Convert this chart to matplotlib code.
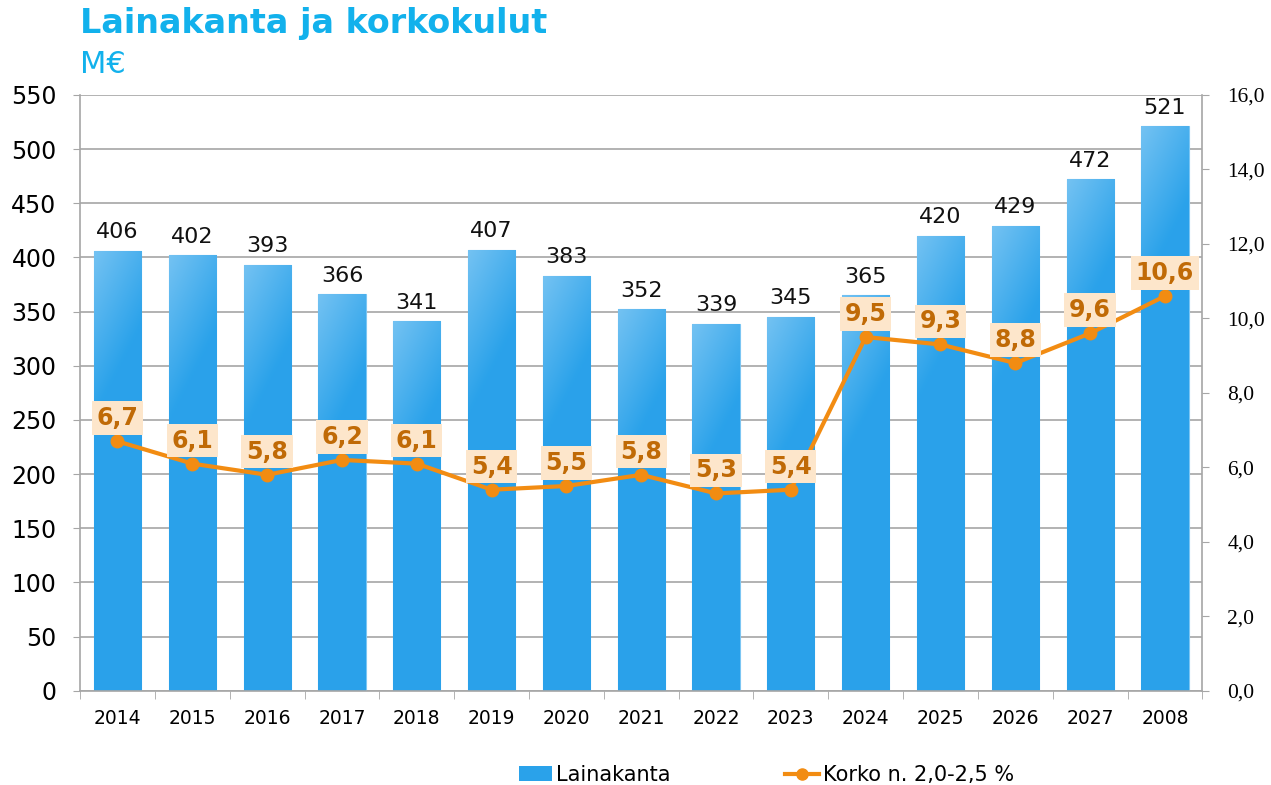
import matplotlib.pyplot as plt
import numpy as np
from matplotlib.lines import Line2D
from matplotlib.patches import Patch

years = ['2014', '2015', '2016', '2017', '2018', '2019', '2020', '2021',
         '2022', '2023', '2024', '2025', '2026', '2027', '2008']
lainakanta = [406, 402, 393, 366, 341, 407, 383, 352, 339, 345, 365, 420, 429, 472, 521]
korko = [6.7, 6.1, 5.8, 6.2, 6.1, 5.4, 5.5, 5.8, 5.3, 5.4, 9.5, 9.3, 8.8, 9.6, 10.6]

bar_col = '#2aa2ea'
line_col = '#f28c12'
lab_col = '#c06a06'
grid_col = '#a6a6a6'

fig = plt.figure(figsize=(12.71, 7.85), dpi=100)
ax = fig.add_axes([0.063, 0.12, 0.883, 0.759])
x = np.arange(len(years))
w = 0.63

bars = ax.bar(x, lainakanta, width=w, color=bar_col, edgecolor='#7cc6f3',
              linewidth=0.8, zorder=2)

# lighter top-left gradient on each bar
light = np.array([0.45, 0.76, 0.95])
dark = np.array([0.165, 0.635, 0.918])
for b, v in zip(bars, lainakanta):
    x0 = b.get_x()
    ny, nx = 200, 20
    depth = np.linspace(0, v, ny)[:, None]       # data units from top
    xf = np.linspace(0, 1, nx)[None, :]
    t = np.clip(depth / 150.0 + xf * 0.55, 0, 1)
    img = np.ones((ny, nx, 4))
    img[..., :3] = light * (1 - t[..., None]) + dark * t[..., None]
    im = ax.imshow(img, extent=[x0, x0 + w, 0, v], origin='upper',
                   aspect='auto', interpolation='bilinear', zorder=2.1)
    im.set_clip_path(b)

for xi, v in zip(x, lainakanta):
    ax.text(xi, v + 8, str(v), ha='center', va='bottom', fontsize=16,
            color='#111111', zorder=5)

ax.set_xlim(-0.5, len(years) - 0.5)
ax.set_ylim(0, 550)
ax.set_yticks(np.arange(0, 551, 50))
ax.tick_params(axis='y', labelsize=17, length=5, color=grid_col, pad=12)
ax.set_xticks(x)
ax.set_xticklabels(years, fontsize=13.5)
ax.set_xticks(np.arange(-0.5, len(years), 1), minor=True)
ax.tick_params(axis='x', which='major', length=0, pad=13)
ax.tick_params(axis='x', which='minor', length=6, color=grid_col)
ax.grid(axis='y', color=grid_col, linewidth=1.2, zorder=0)
ax.set_axisbelow(True)
for s in ['left', 'bottom', 'right']:
    ax.spines[s].set_color(grid_col)
    ax.spines[s].set_linewidth(1.2)
ax.spines['top'].set_visible(False)

ax2 = ax.twinx()
ax2.set_ylim(0, 16)
ax2.set_yticks(np.arange(0, 17, 2))
ax2.set_yticklabels([f'{v:.1f}'.replace('.', ',') for v in np.arange(0, 17, 2)],
                    fontsize=15.5, family='Liberation Serif')
ax2.tick_params(axis='y', length=5, color=grid_col, pad=13)
for s in ['left', 'bottom', 'right', 'top']:
    ax2.spines[s].set_visible(False)
ax2.plot(x, korko, color=line_col, linewidth=3, marker='o', markersize=9,
         zorder=4)
for xi, v in zip(x, korko):
    ax2.annotate(f'{v:.1f}'.replace('.', ','), (xi, v), xytext=(0, 8),
                 textcoords='offset points', ha='center', va='bottom',
                 fontsize=17, fontweight='bold', color=lab_col, zorder=6,
                 bbox=dict(boxstyle='square,pad=0.2', facecolor='#fde6cb',
                           edgecolor='none'))

fig.text(0.063, 0.97, 'Lainakanta ja korkokulut', fontsize=24, fontweight='bold',
         color='#12b1ec', va='center')
fig.text(0.063, 0.918, 'M€', fontsize=22, color='#12b1ec', va='center')

leg_kw = dict(frameon=False, fontsize=15, handlelength=1.6, handletextpad=0.2,
              borderpad=0, borderaxespad=0)
fig.legend([Patch(facecolor=bar_col, edgecolor='none')], ['Lainakanta'],
           loc='center left', bbox_to_anchor=(0.408, 0.0127), **leg_kw)
fig.legend([Line2D([0], [0], color=line_col, linewidth=3, marker='o', markersize=8)],
           ['Korko n. 2,0-2,5 %'],
           loc='center left', bbox_to_anchor=(0.618, 0.0127), **leg_kw)

fig.savefig('out.png', dpi=100)
